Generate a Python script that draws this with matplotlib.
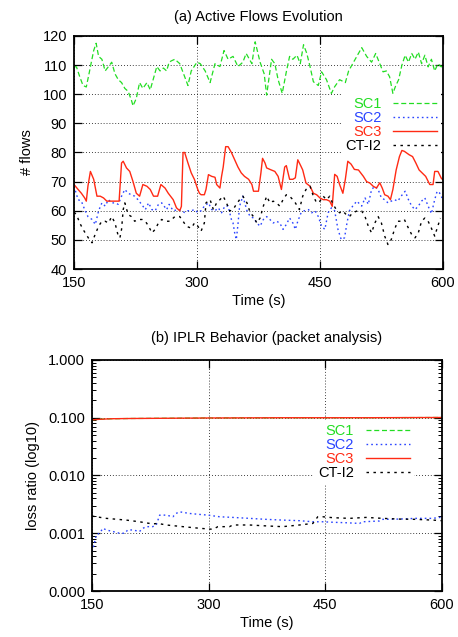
import numpy as np
import matplotlib
matplotlib.use("Agg")
import matplotlib.pyplot as plt
from matplotlib.ticker import FixedLocator, FuncFormatter, LogLocator, NullFormatter

plt.rcParams['font.family'] = ['Liberation Sans', 'DejaVu Sans']

# --- (a) active flows ---
sc1_t = [150, 153, 157, 161, 165, 169, 174, 177, 180, 184, 188, 192, 196, 200, 204, 208,
         212, 216, 220, 222, 226, 230, 234, 239, 243, 247, 251, 255, 259, 263, 266, 269,
         273, 279, 285, 289, 293, 300, 304, 310, 316, 322, 328, 333, 338, 344, 350, 356,
         360, 367, 371, 377, 382, 385, 391, 395, 399, 404, 409, 413, 417, 422, 426, 430,
         434, 438, 442, 448, 452, 458, 464, 468, 474, 481, 485, 490, 495, 501, 507, 513,
         518, 523, 527, 531, 535, 539, 542, 546, 550, 554, 558, 562, 566, 570, 574, 578,
         582, 586, 590, 594, 598, 600]
sc1_y = [109.5, 109.4, 106, 103, 102.5, 108, 115, 117.5, 113, 112, 108, 109.5, 111, 107, 105, 104,
         102, 101, 98, 96, 98.6, 104, 102, 104, 101.5, 105.5, 109.5, 108, 109, 108, 111, 111.5,
         112, 110.5, 106, 103, 108, 111, 110.5, 108, 104, 110.5, 109.5, 115, 112, 113, 109.5, 111,
         114, 110.5, 118, 111, 107, 99.7, 112, 110.5, 105, 100.3, 107.7, 113, 112, 113.4, 110.5, 117,
         114, 109.4, 104.3, 103, 107.7, 105, 100.3, 102.6, 105, 104, 108, 110.5, 113, 116, 113, 111,
         114, 110.5, 107.7, 108, 106, 100.3, 102.6, 105, 110, 113.4, 111, 114, 112, 114.5, 110.5, 113.4,
         109.4, 112, 108, 110.5, 109.4, 110]

sc2_t = [150, 155, 159, 163, 167, 172, 176, 180, 184, 188, 192, 196, 200, 204, 208, 212,
         216, 220, 224, 228, 233, 237, 241, 245, 249, 253, 257, 263, 266, 271, 277, 281,
         285, 289, 293, 297, 301, 305, 309, 314, 318, 322, 326, 330, 334, 338, 342, 344,
         346, 348, 350, 352, 356, 361, 365, 369, 373, 377, 381, 385, 389, 393, 397, 401,
         405, 409, 413, 417, 420, 423, 427, 431, 436, 440, 444, 448, 452, 456, 460, 464,
         468, 472, 476, 480, 483, 486, 490, 495, 501, 505, 509, 513, 517, 521, 525, 529,
         533, 537, 541, 545, 549, 554, 558, 562, 566, 570, 574, 578, 582, 586, 590, 593,
         596, 599]
sc2_y = [68.4, 63.8, 63.3, 60.4, 58, 57, 55.3, 60, 62.7, 61.6, 63.8, 62.7, 62.7, 62.2, 65, 67.3,
         66, 65.5, 65, 63.8, 62, 60.4, 62.7, 60.4, 60, 62.2, 62.7, 60.4, 62.2, 60, 60.4, 60,
         59.4, 60, 60, 60.4, 59.4, 60, 61.6, 62.7, 60.4, 60, 61, 59.3, 61.6, 61.6, 57, 55.8,
         52.4, 50.1, 55.3, 61.6, 65, 60, 58, 57.5, 55.8, 54.7, 57, 58, 57, 55.8, 56.4, 55.8,
         53.6, 55.3, 57.5, 55.8, 53.6, 56.4, 59.3, 60, 60.4, 59.3, 60, 58, 54.7, 53.6, 59.3, 61,
         60, 53.6, 50.1, 50.7, 55.8, 60, 61.6, 63.3, 61.6, 64.4, 62.2, 67.3, 68.4, 67.3, 64.4, 63.8,
         62.7, 63.3, 63.8, 63.3, 65, 66.7, 63.8, 61.6, 60.4, 61.6, 63.3, 64.4, 61.6, 59, 63.8, 66.7,
         66.1, 64.4]

sc3_t = [150, 155, 159, 163, 165, 167, 170, 174, 178, 182, 186, 190, 202, 205, 208, 210,
         214, 218, 222, 226, 230, 234, 239, 243, 247, 252, 256, 261, 265, 271, 275, 279,
         281, 283, 285, 289, 293, 297, 301, 303, 305, 309, 311, 314, 318, 322, 324, 328,
         330, 332, 335, 338, 342, 346, 350, 354, 358, 363, 367, 369, 375, 378, 380, 383,
         385, 389, 395, 399, 403, 407, 409, 413, 417, 420, 423, 427, 429, 433, 438, 442,
         446, 450, 454, 458, 462, 465, 468, 471, 474, 478, 481, 484, 488, 492, 497, 503,
         507, 511, 515, 519, 523, 526, 529, 533, 536, 539, 543, 547, 550, 553, 559, 563,
         567, 571, 575, 579, 584, 588, 590, 594, 598, 600]
sc3_y = [69, 67.3, 66, 64.4, 63.3, 68.5, 73.5, 70.8, 65, 65, 64.4, 63.3, 63.3, 63.3, 76.4, 77,
         74.7, 73.5, 70, 66, 65, 69, 68.4, 67.3, 65, 65, 69, 67.8, 66, 63.8, 61, 60,
         61.5, 80, 80, 76.4, 73, 70.7, 67.3, 66, 65.5, 65.5, 67.3, 72.4, 71.8, 71.5, 69, 67.8,
         71.8, 75, 82, 82, 80, 77.5, 75, 73, 71.8, 70.8, 69, 66.7, 66.7, 73, 78, 76.4,
         74.7, 74.2, 73.5, 71.8, 67.3, 75, 75.5, 70.8, 70.8, 71.3, 77.5, 75.2, 74, 69.5, 68.4, 66,
         65.5, 64.4, 63.8, 63.8, 63.3, 61.5, 72.5, 71.8, 69, 66, 70.8, 77, 76, 74.2, 74, 71.8,
         70, 69.5, 68.4, 67.8, 69.6, 67.8, 65.5, 65, 63.8, 67.3, 74, 78.6, 80.7, 80.4, 79.2, 78.6,
         76.4, 74, 72.9, 71.8, 69, 69, 73.5, 73.5, 71.2, 70.6]

cti2_t = [150, 153, 157, 161, 165, 169, 172, 175, 180, 184, 188, 192, 196, 200, 204, 206,
          208, 210, 212, 216, 220, 224, 228, 233, 237, 241, 245, 249, 253, 257, 261, 267,
          273, 279, 283, 287, 293, 297, 301, 305, 309, 311, 316, 320, 324, 328, 332, 336,
          340, 344, 348, 352, 356, 361, 365, 369, 373, 377, 381, 385, 389, 393, 397, 401,
          405, 409, 413, 417, 420, 425, 429, 433, 438, 442, 446, 450, 454, 458, 462, 466,
          470, 474, 478, 482, 486, 490, 495, 501, 505, 509, 513, 517, 521, 525, 529, 533,
          537, 541, 545, 549, 553, 558, 562, 566, 570, 574, 578, 582, 586, 590, 593, 597]
cti2_y = [59.5, 58.7, 55.8, 53.6, 51.8, 50, 49, 51.3, 54.7, 56.4, 56.4, 55.8, 58, 55.8, 51.3, 50.7,
          53.6, 60.4, 62.7, 58.7, 58, 56.4, 57, 57, 56.4, 54.7, 52.4, 53.6, 55.8, 57, 56.4, 56.4,
          58, 58, 56.4, 54.7, 54, 55.8, 54.7, 53, 55.8, 62.7, 63.8, 60.4, 62.7, 63.8, 65, 62.7,
          59.9, 60.4, 62.2, 63.8, 65, 62.7, 59.3, 58, 55.8, 57.5, 61.6, 65, 62.7, 63.3, 62.7, 61.6,
          63.8, 65.5, 65, 63.8, 62.7, 60.4, 65, 67.3, 68.4, 65, 62.7, 63.3, 65, 63.8, 65, 62.2,
          60.4, 59.3, 59.9, 58.7, 58, 59.3, 59.9, 59.9, 58, 54.7, 52.4, 55.8, 58, 55.8, 51.3, 48.4,
          50.1, 53.6, 56.4, 56.4, 57, 54, 51.8, 50.7, 52.4, 56.4, 57.5, 56.4, 54, 51.3, 54, 57.5]

# --- (b) IPLR loss ratio ---
loss_sc3_t = [150, 160, 175, 200, 250, 300, 400, 500, 600]
loss_sc3_y = [0.092, 0.094, 0.096, 0.097, 0.098, 0.099, 0.1, 0.1, 0.101]
loss_sc1_t = loss_sc3_t
loss_sc1_y = loss_sc3_y  # hidden under SC3

loss_sc2_t = [150, 152.6, 155.6, 159.8, 164, 168.4, 177, 185.5, 192, 196, 202.7, 211, 215.5,
              220, 228, 232.6, 237, 245.5, 254, 258, 262.6, 275.5, 288, 299, 314, 331, 352.5,
              374, 395, 416.8, 434, 446.7, 459.6, 476.7, 494, 498, 519.5, 523.8, 545, 566.6, 588, 600]
loss_sc2_y = [0.00048, 0.00063, 0.00094, 0.001, 0.00122, 0.00114, 0.00107, 0.001, 0.001, 0.00114,
              0.00114, 0.00107, 0.00122, 0.0013, 0.0013, 0.00139, 0.00206, 0.00206, 0.00193, 0.0022,
              0.00235, 0.0022, 0.00212, 0.00206, 0.00193, 0.00188, 0.00181, 0.00174, 0.00169, 0.00165,
              0.00158, 0.00158, 0.00155, 0.00152, 0.00148, 0.00158, 0.00163, 0.00174, 0.00176, 0.00181,
              0.00181, 0.0019]

loss_cti2_t = [150, 168.4, 194, 211, 228, 234.8, 245.5, 267, 288, 305.4, 311.9, 326.8, 331, 352.5,
               374, 395, 416.8, 434, 440.3, 446.7, 459.6, 481, 502.4, 523.8, 545, 566.6, 588, 600]
loss_cti2_y = [0.00198, 0.00181, 0.00169, 0.00158, 0.00145, 0.00148, 0.00139, 0.0013, 0.00122,
               0.00117, 0.0013, 0.0013, 0.00139, 0.00139, 0.00134, 0.0013, 0.00139, 0.00148, 0.00193,
               0.00193, 0.00186, 0.00181, 0.00188, 0.00181, 0.00176, 0.00174, 0.00169, 0.00165]

x_ticks = [150, 300, 450, 600]
flow_ticks = list(range(40, 121, 10))
loss_ticks = [1e-4, 1e-3, 1e-2, 1e-1, 1]

GREEN = '#22dd22'
BLUE = '#2a44ff'
RED = '#ff2a14'
BLACK = 'black'


def style_axes(ax):
    ax.tick_params(which='both', direction='in', top=True, right=True, labelsize=10.5)
    ax.tick_params(which='major', length=6, width=0.9, pad=5)
    ax.tick_params(which='minor', length=3, width=0.7)
    for s in ax.spines.values():
        s.set_linewidth(1.3)
        s.set_zorder(3)
    ax.grid(True, which='major', color='black', linestyle=(0, (1, 2.5)), linewidth=0.6)


def add_legend(ax, anchor):
    # white box hides the grid only, curves stay on top (like the gnuplot key)
    leg = ax.legend(loc='upper right', bbox_to_anchor=anchor, borderaxespad=0,
                    markerfirst=False, labelcolor='linecolor', fontsize=10.5,
                    handlelength=3.0, handletextpad=0.8, labelspacing=0.0,
                    borderpad=0.3, frameon=True, fancybox=False, framealpha=1,
                    facecolor='white', edgecolor='none')
    leg.set_zorder(1.8)
    return leg


fig = plt.figure(figsize=(4.58, 6.37), dpi=100)
ax1 = fig.add_axes([0.1616, 0.5777, 0.8054, 0.3658])
ax2 = fig.add_axes([0.2009, 0.0722, 0.7641, 0.3627])

# top panel
ax1.plot(sc1_t, sc1_y, color=GREEN, lw=0.9, dashes=(4, 2.2), label='SC1')
ax1.plot(sc2_t, sc2_y, color=BLUE, lw=1.0, dashes=(1.2, 2.2), label='SC2')
ax1.plot(sc3_t, sc3_y, color=RED, lw=1.0, label='SC3')
ax1.plot(cti2_t, cti2_y, color=BLACK, lw=1.0, dashes=(1.8, 3.2), label='CT-I2')
ax1.set_xlim(150, 600)
ax1.set_ylim(40, 120)
ax1.xaxis.set_major_locator(FixedLocator(x_ticks))
ax1.yaxis.set_major_locator(FixedLocator(flow_ticks))
style_axes(ax1)
ax1.set_title('(a) Active Flows Evolution', fontsize=10.5, pad=11)
ax1.set_xlabel('Time (s)', fontsize=10.5, labelpad=3)
ax1.set_ylabel('# flows', fontsize=10.5, labelpad=6)
add_legend(ax1, (0.995, 0.755))

# bottom panel
ax2.set_yscale('log', nonpositive='mask')
ax2.plot(loss_sc1_t, loss_sc1_y, color=GREEN, lw=0.9, dashes=(4, 2.2), label='SC1')
ax2.plot(loss_sc2_t, loss_sc2_y, color=BLUE, lw=1.0, dashes=(1.2, 2.2), label='SC2')
ax2.plot(loss_sc3_t, loss_sc3_y, color=RED, lw=1.0, label='SC3')
ax2.plot(loss_cti2_t, loss_cti2_y, color=BLACK, lw=1.0, dashes=(1.8, 3.2), label='CT-I2')
ax2.set_xlim(150, 600)
ax2.set_ylim(1e-4, 1)
ax2.xaxis.set_major_locator(FixedLocator(x_ticks))
ax2.yaxis.set_major_locator(FixedLocator(loss_ticks))
ax2.yaxis.set_major_formatter(FuncFormatter(lambda v, p: '%.3f' % v))
ax2.yaxis.set_minor_locator(LogLocator(base=10, subs=np.arange(2, 10)))
ax2.yaxis.set_minor_formatter(NullFormatter())
style_axes(ax2)
ax2.set_title('(b) IPLR Behavior (packet analysis)', fontsize=10.5, pad=13)
ax2.set_xlabel('Time (s)', fontsize=10.5, labelpad=3)
ax2.set_ylabel('loss ratio (log10)', fontsize=10.5, labelpad=6)
add_legend(ax2, (0.92, 0.74))

fig.savefig('out.png', dpi=100)
